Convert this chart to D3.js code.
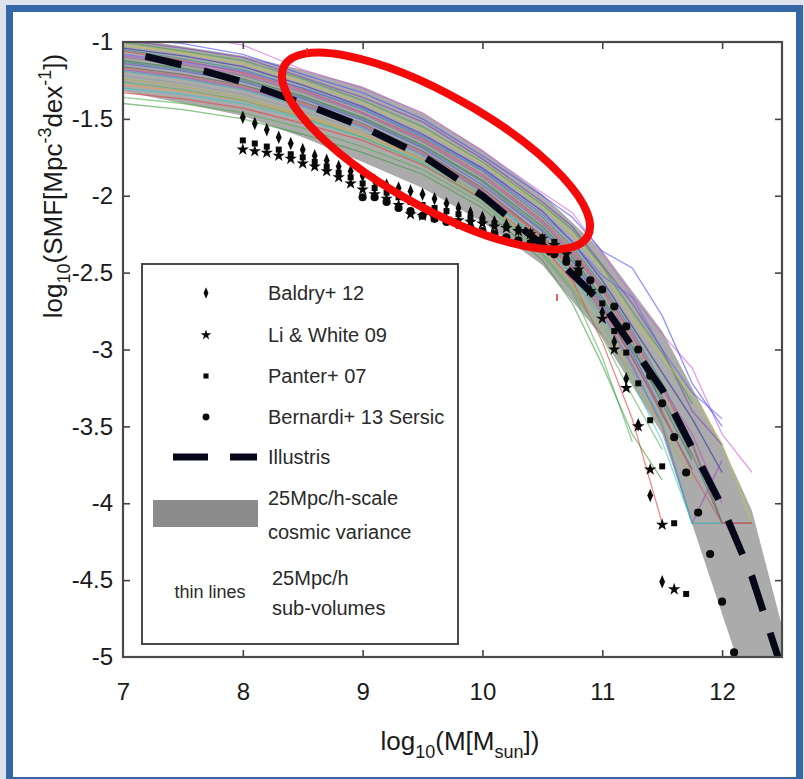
<!DOCTYPE html>
<html>
<head>
<meta charset="utf-8">
<script src="https://cdn.jsdelivr.net/npm/d3@7"></script>
<style>
  body { margin: 0; background: #dfe4ee; }
  svg { display: block; }
  text { font-family: "Liberation Sans", Arial, Helvetica, sans-serif; }
</style>
</head>
<body>
<svg id="chart" width="804" height="779"></svg>
<script>
// ---- axis ticks ----
const xTicks = [7, 8, 9, 10, 11, 12];
const yTicks = [-1, -1.5, -2, -2.5, -3, -3.5, -4, -4.5, -5];

// ---- 25 Mpc/h-scale cosmic variance band ----
const bandX  = [7.0, 7.5, 8.0, 8.5, 9.0, 9.5, 10.0, 10.5, 11.0, 11.5, 12.0, 12.25, 12.5];
const bandLo = [-1.32, -1.40, -1.48, -1.62, -1.78, -1.95, -2.17, -2.45, -2.92, -3.55, -4.72, -5.30, -6.00];
const bandHi = [-0.97, -1.03, -1.09, -1.18, -1.29, -1.46, -1.70, -1.99, -2.36, -2.88, -3.62, -4.05, -4.80];

// ---- Illustris mass function ----
const illustrisX = [7.0, 7.5, 8.0, 8.5, 9.0, 9.5, 10.0, 10.5, 11.0, 11.5, 12.0, 12.25, 12.5];
const illustrisY = [-1.06, -1.15, -1.26, -1.40, -1.55, -1.74, -2.00, -2.32, -2.70, -3.26, -4.02, -4.48, -5.08];

// ---- 25 Mpc/h sub-volumes (thin lines) ----
const subGrid = [7.0, 7.5, 8.0, 8.5, 9.0, 9.5, 10.0, 10.5, 10.75, 11.0, 11.25, 11.5, 11.75, 12.0, 12.25];
const subColors = [
  "#d060e0", "#4a4aff", "#7b3fb5", "#3da03d", "#c8c83a", "#2a2aa8", "#2a9090",
  "#e04848", "#7a7a7a", "#2a7a40", "#5050e8", "#5a5a5a", "#9a4ac8", "#30c8c8",
  "#f09a40", "#e83a3a", "#4cb04c", "#3c9c3c", "#9a9a9a", "#b0b040", "#6060ff",
  "#c050c0", "#3a8080", "#d05a5a", "#30b0b0", "#5cb05c"
];
const subValues = [
  [-0.90, -0.95, -1.02, -1.18, -1.30, -1.46, -1.71, -1.98, -2.11, -2.37, -2.65, -2.90, -3.12, -3.55, -3.80],
  [-0.97, -1.01, -1.08, -1.21, -1.33, -1.50, -1.74, -2.00, -2.14, -2.36, -2.47, -2.78, -3.22, -3.50, null],
  [-0.99, -1.04, -1.10, -1.23, -1.36, -1.52, -1.76, -2.04, -2.20, -2.45, -2.70, -3.00, -3.40, -3.62, null],
  [-1.00, -1.06, -1.12, -1.24, -1.38, -1.55, -1.78, -2.06, -2.22, -2.46, -2.75, -3.02, -3.35, null, null],
  [-1.02, -1.07, -1.14, -1.26, -1.40, -1.57, -1.79, -2.07, -2.25, -2.48, -2.80, -3.05, -3.30, -3.61, -4.13],
  [-1.04, -1.09, -1.16, -1.28, -1.42, -1.60, -1.82, -2.10, -2.30, -2.55, -2.85, -3.15, -3.45, -3.80, null],
  [-1.05, -1.11, -1.18, -1.30, -1.44, -1.62, -1.84, -2.14, -2.33, -2.58, -2.88, -3.22, -3.60, -4.13, -4.13],
  [-1.06, -1.12, -1.20, -1.31, -1.46, -1.63, -1.86, -2.16, -2.35, -2.60, -2.92, -3.25, -3.62, -4.13, -4.13],
  [-1.10, -1.15, -1.22, -1.33, -1.47, -1.65, -1.88, -2.18, -2.38, -2.62, -2.95, -3.30, -3.70, null, null],
  [-1.12, -1.17, -1.24, -1.35, -1.49, -1.67, -1.90, -2.20, -2.40, -2.66, -2.98, -3.35, -3.72, null, null],
  [-1.14, -1.19, -1.26, -1.37, -1.51, -1.69, -1.93, -2.23, -2.43, -2.70, -3.02, -3.40, null, null, null],
  [-1.16, -1.21, -1.28, -1.39, -1.53, -1.71, -1.95, -2.26, -2.46, -2.72, -3.05, -3.42, -3.78, null, null],
  [-1.18, -1.23, -1.30, -1.41, -1.55, -1.73, -1.97, -2.28, -2.48, -2.76, -3.10, -3.50, -4.13, -3.72, null],
  [-1.30, -1.34, -1.40, -1.50, -1.62, -1.78, -2.00, -2.30, -2.52, -2.82, -3.20, -3.60, -4.13, null, null],
  [-1.28, -1.32, -1.38, -1.48, -1.60, -1.76, -1.98, -2.28, -2.50, -2.80, -3.15, null, null, null, null],
  [-1.33, -1.37, -1.43, -1.53, -1.64, -1.80, -2.02, -2.33, -2.55, -2.95, -3.45, -4.13, null, null, null],
  [-1.36, -1.40, -1.46, -1.56, -1.68, -1.83, -2.05, -2.38, -2.62, -3.05, -3.60, null, null, null, null],
  [-1.40, -1.44, -1.50, -1.60, -1.72, -1.86, -2.08, -2.42, -2.70, -3.10, -3.55, -3.85, null, null, null],
  [-1.22, -1.27, -1.34, -1.45, -1.58, -1.76, -2.00, -2.40, -2.62, -2.90, -3.15, -3.45, null, null, null],
  [-1.24, -1.29, -1.36, -1.47, -1.60, -1.77, -2.01, -2.35, -2.58, -2.86, -3.20, -3.50, -3.85, null, null],
  [-1.08, -1.13, -1.19, -1.30, -1.43, -1.61, -1.83, -2.12, -2.30, -2.52, -2.66, -3.00, -3.28, -3.45, null],
  [-1.09, -1.14, -1.21, -1.32, -1.46, -1.64, -1.87, -2.17, -2.37, -2.60, -2.90, -3.25, -3.55, -4.00, null],
  [-1.13, -1.18, -1.25, -1.36, -1.50, -1.68, -1.91, -2.22, -2.42, -2.68, -3.00, -3.32, -3.68, -4.13, null],
  [-1.17, -1.22, -1.29, -1.40, -1.54, -1.72, -1.96, -2.27, -2.48, -2.74, -3.06, -3.40, -3.80, -4.13, -4.13],
  [-1.19, -1.24, -1.31, -1.42, -1.56, -1.74, -1.98, -2.30, -2.51, -2.78, -3.12, -3.48, -4.13, -4.13, null],
  [-1.26, -1.31, -1.38, -1.49, -1.62, -1.79, -2.03, -2.37, -2.60, -2.92, -3.30, -3.65, null, null, null]
];

// ---- observed stellar mass functions ----
const baldryX = [8.0, 8.1, 8.2, 8.3, 8.4, 8.5, 8.6, 8.7, 8.8, 8.9, 9.0, 9.1, 9.2, 9.3, 9.4, 9.5, 9.6, 9.7,
                 9.8, 9.9, 10.0, 10.1, 10.2, 10.3, 10.4, 10.5, 10.6, 10.7, 10.8, 10.9, 11.0, 11.1, 11.2, 11.3, 11.4, 11.5];
const baldryY = [-1.49, -1.53, -1.57, -1.62, -1.66, -1.70, -1.74, -1.77, -1.81, -1.84, -1.87, -1.90, -1.93, -1.95, -1.97, -1.99, -2.02, -2.05,
                 -2.08, -2.11, -2.14, -2.17, -2.19, -2.22, -2.25, -2.29, -2.33, -2.40, -2.50, -2.62, -2.76, -2.95, -3.19, -3.49, -3.95, -4.51];

const liWhiteX = [8.0, 8.1, 8.2, 8.3, 8.4, 8.5, 8.6, 8.7, 8.8, 8.9, 9.0, 9.1, 9.2, 9.3, 9.4, 9.5, 9.6, 9.7,
                  9.8, 9.9, 10.0, 10.1, 10.2, 10.3, 10.4, 10.5, 10.6, 10.7, 10.8, 10.9, 11.0, 11.1, 11.2, 11.3, 11.4, 11.5, 11.6];
const liWhiteY = [-1.70, -1.71, -1.72, -1.74, -1.76, -1.79, -1.81, -1.84, -1.88, -1.92, -1.96, -1.99, -2.02, -2.06, -2.12, -2.13, -2.14, -2.15,
                  -2.16, -2.17, -2.18, -2.20, -2.21, -2.23, -2.25, -2.28, -2.32, -2.38, -2.48, -2.62, -2.80, -3.00, -3.25, -3.50, -3.78, -4.14, -4.56];

const panterX = [8.0, 8.1, 8.2, 8.3, 8.4, 8.5, 8.6, 8.7, 8.8, 8.9, 9.0, 9.1, 9.2, 9.3, 9.4, 9.5, 9.6, 9.7,
                 9.8, 9.9, 10.0, 10.1, 10.2, 10.3, 10.4, 10.5, 10.6, 10.7, 10.8, 10.9, 11.0, 11.1, 11.2, 11.3, 11.4, 11.5, 11.6, 11.7];
const panterY = [-1.64, -1.66, -1.68, -1.70, -1.73, -1.75, -1.78, -1.81, -1.85, -1.88, -1.92, -1.95, -1.98, -2.01, -2.04, -2.06, -2.08, -2.10,
                 -2.12, -2.14, -2.16, -2.18, -2.20, -2.22, -2.24, -2.27, -2.30, -2.36, -2.44, -2.55, -2.70, -2.88, -3.02, -3.22, -3.46, -3.76, -4.13, -4.59];

const bernardiX = [9.0, 9.1, 9.2, 9.3, 9.4, 9.5, 9.6, 9.7, 9.8, 9.9, 10.0, 10.1, 10.2, 10.3, 10.4, 10.5,
                   10.6, 10.7, 10.8, 10.9, 11.0, 11.1, 11.2, 11.3, 11.4, 11.5, 11.6, 11.7, 11.8, 11.9, 12.0, 12.1];
const bernardiY = [-2.01, -2.01, -2.04, -2.08, -2.10, -2.13, -2.15, -2.17, -2.19, -2.21, -2.23, -2.25, -2.27, -2.29, -2.31, -2.34,
                   -2.38, -2.43, -2.50, -2.55, -2.61, -2.72, -2.85, -3.00, -3.17, -3.35, -3.57, -3.80, -4.06, -4.33, -4.64, -4.97];

// ---- legend entries ----
const markerLegend = ["Baldry+ 12", "Li & White 09", "Panter+ 07", "Bernardi+ 13 Sersic"];

// ---------------------------------------------------------------
const svg = d3.select("#chart");
const W = 804, H = 779;
const plot = { left: 123, right: 782, top: 42, bottom: 657 };

const x = d3.scaleLinear().domain([7, 12.5]).range([plot.left, plot.right]);
const y = d3.scaleLinear().domain([-5, -1]).range([plot.bottom, plot.top]);

// page frame
svg.append("rect").attr("x", 0).attr("y", 0).attr("width", W).attr("height", H).attr("fill", "#dde2ec");
svg.append("rect")
  .attr("x", 9.5).attr("y", 8.5).attr("width", 790).attr("height", 772)
  .attr("fill", "#ffffff").attr("stroke", "#3566a6").attr("stroke-width", 7);

svg.append("defs").append("clipPath").attr("id", "plotClip")
  .append("rect")
  .attr("x", plot.left).attr("y", plot.top)
  .attr("width", plot.right - plot.left).attr("height", plot.bottom - plot.top);

const inner = svg.append("g").attr("clip-path", "url(#plotClip)");

// cosmic variance band
const bandData = bandX.map((v, i) => ({ x: v, lo: bandLo[i], hi: bandHi[i] }));
inner.append("path")
  .datum(bandData)
  .attr("fill", "#ababab")
  .attr("d", d3.area().x(d => x(d.x)).y0(d => y(d.lo)).y1(d => y(d.hi)));

// sub-volume thin lines
const thin = d3.line()
  .defined(d => d[1] !== null)
  .x(d => x(d[0])).y(d => y(d[1]));
inner.append("g").selectAll("path")
  .data(subValues)
  .join("path")
  .attr("fill", "none")
  .attr("stroke", (d, i) => subColors[i])
  .attr("stroke-width", 1.3)
  .attr("stroke-opacity", 0.6)
  .attr("d", vals => thin(vals.map((v, i) => [subGrid[i], v])));

// Illustris dashed curve
inner.append("path")
  .datum(illustrisX.map((v, i) => [v, illustrisY[i]]))
  .attr("fill", "none")
  .attr("stroke", "#07071a")
  .attr("stroke-width", 7)
  .attr("stroke-dasharray", "37 23")
  .attr("stroke-dashoffset", 37)
  .attr("d", d3.line().x(d => x(d[0])).y(d => y(d[1])));

// observation markers
const diamond = d3.symbol().type(d3.symbolDiamond).size(40)();
const star = d3.symbol().type(d3.symbolStar).size(48)();
const square = d3.symbol().type(d3.symbolSquare).size(36)();
const circle = d3.symbol().type(d3.symbolCircle).size(52)();
const markerShapes = [
  { d: diamond, t: "scale(0.85,1.15)" },
  { d: star, t: "" },
  { d: square, t: "" },
  { d: circle, t: "" }
];
const obsSets = [
  [baldryX, baldryY], [liWhiteX, liWhiteY], [panterX, panterY], [bernardiX, bernardiY]
];
obsSets.forEach(([xs, ys], k) => {
  inner.append("g").selectAll("path")
    .data(xs.map((v, i) => [v, ys[i]]))
    .join("path")
    .attr("d", markerShapes[k].d)
    .attr("fill", "#0a0a0a")
    .attr("transform", d => `translate(${x(d[0])},${y(d[1])}) ${markerShapes[k].t}`);
});

// axes with inward ticks on all four sides
const tickStyle = g => {
  g.select(".domain").remove();
  g.selectAll(".tick line").attr("stroke", "#444").attr("stroke-width", 1.6);
  g.selectAll(".tick text").attr("fill", "#1a1a1a").attr("font-size", 24);
};
const inside = v => v > -5 && v < -1;
svg.append("g")
  .attr("transform", `translate(0,${plot.bottom})`)
  .call(d3.axisBottom(x).tickValues(xTicks).tickSize(-7).tickPadding(26).tickFormat(d => String(d)))
  .call(tickStyle)
  .call(g => g.selectAll(".tick line").attr("opacity", d => d === 7 ? 0 : 1));
svg.append("g")
  .attr("transform", `translate(0,${plot.top})`)
  .call(d3.axisTop(x).tickValues(xTicks.filter(v => v > 7)).tickSize(-7).tickFormat(""))
  .call(tickStyle);
svg.append("g")
  .attr("transform", `translate(${plot.left},0)`)
  .call(d3.axisLeft(y).tickValues(yTicks).tickSize(-7).tickPadding(10).tickFormat(d => String(d)))
  .call(tickStyle)
  .call(g => g.selectAll(".tick line").attr("opacity", d => inside(d) ? 1 : 0));
svg.append("g")
  .attr("transform", `translate(${plot.right},0)`)
  .call(d3.axisRight(y).tickValues(yTicks.filter(inside)).tickSize(-7).tickFormat(""))
  .call(tickStyle);

// plot frame
svg.append("rect")
  .attr("x", plot.left).attr("y", plot.top)
  .attr("width", plot.right - plot.left).attr("height", plot.bottom - plot.top)
  .attr("fill", "none").attr("stroke", "#4a4a4a").attr("stroke-width", 2.2);

// axis titles
const xLab = svg.append("text")
  .attr("x", 460).attr("y", 750)
  .attr("text-anchor", "middle").attr("font-size", 26).attr("fill", "#1a1a1a");
xLab.append("tspan").text("log");
xLab.append("tspan").attr("font-size", 18).attr("dy", 8).text("10");
xLab.append("tspan").attr("dy", -8).text("(M[M");
xLab.append("tspan").attr("font-size", 18).attr("dy", 8).text("sun");
xLab.append("tspan").attr("dy", -8).text("])");

const yLab = svg.append("text")
  .attr("transform", "translate(62,186) rotate(-90)")
  .attr("text-anchor", "middle").attr("font-size", 26).attr("fill", "#1a1a1a");
yLab.append("tspan").text("log");
yLab.append("tspan").attr("font-size", 18).attr("dy", 8).text("10");
yLab.append("tspan").attr("dy", -8).text("(SMF[Mpc");
yLab.append("tspan").attr("font-size", 18).attr("dy", -11).text("-3");
yLab.append("tspan").attr("dy", 11).text("dex");
yLab.append("tspan").attr("font-size", 18).attr("dy", -11).text("-1");
yLab.append("tspan").attr("dy", 11).text("])");

// legend
const leg = svg.append("g");
leg.append("rect")
  .attr("x", 142).attr("y", 264).attr("width", 316).attr("height", 380)
  .attr("fill", "#ffffff").attr("stroke", "#4a4a4a").attr("stroke-width", 2);

const legRows = [293, 335, 376, 417];
markerLegend.forEach((name, k) => {
  leg.append("path")
    .attr("d", markerShapes[k].d)
    .attr("fill", "#0a0a0a")
    .attr("transform", `translate(206,${legRows[k]}) ${markerShapes[k].t} scale(0.85)`);
  leg.append("text")
    .attr("x", 268).attr("y", legRows[k]).attr("dy", "0.35em")
    .attr("font-size", 20).attr("fill", "#2a2a2a").text(name);
});
leg.append("line")
  .attr("x1", 173).attr("x2", 257).attr("y1", 457).attr("y2", 457)
  .attr("stroke", "#07071a").attr("stroke-width", 7).attr("stroke-dasharray", "35 22");
leg.append("text").attr("x", 268).attr("y", 457).attr("dy", "0.35em")
  .attr("font-size", 20).attr("fill", "#2a2a2a").text("Illustris");
leg.append("rect")
  .attr("x", 153).attr("y", 500).attr("width", 105).attr("height", 27)
  .attr("fill", "#8c8c8c");
leg.append("text").attr("x", 268).attr("y", 498).attr("dy", "0.35em")
  .attr("font-size", 20).attr("fill", "#2a2a2a").text("25Mpc/h-scale");
leg.append("text").attr("x", 268).attr("y", 532).attr("dy", "0.35em")
  .attr("font-size", 20).attr("fill", "#2a2a2a").text("cosmic variance");
leg.append("text").attr("x", 210).attr("y", 592).attr("dy", "0.35em")
  .attr("text-anchor", "middle")
  .attr("font-size", 18).attr("fill", "#2a2a2a").text("thin lines");
leg.append("text").attr("x", 272).attr("y", 578).attr("dy", "0.35em")
  .attr("font-size", 20).attr("fill", "#2a2a2a").text("25Mpc/h");
leg.append("text").attr("x", 272).attr("y", 608).attr("dy", "0.35em")
  .attr("font-size", 20).attr("fill", "#2a2a2a").text("sub-volumes");

// highlight ellipse and small red marks
svg.append("ellipse")
  .attr("cx", 0).attr("cy", 0).attr("rx", 174).attr("ry", 56)
  .attr("transform", "translate(436,151) rotate(29.4)")
  .attr("fill", "none").attr("stroke", "#f50a0a").attr("stroke-width", 8);
svg.append("line").attr("x1", 307).attr("x2", 307).attr("y1", 48).attr("y2", 55)
  .attr("stroke", "#e03030").attr("stroke-width", 1.5);
svg.append("line").attr("x1", 557).attr("x2", 557).attr("y1", 294).attr("y2", 301)
  .attr("stroke", "#e03030").attr("stroke-width", 1.5);
</script>
</body>
</html>
